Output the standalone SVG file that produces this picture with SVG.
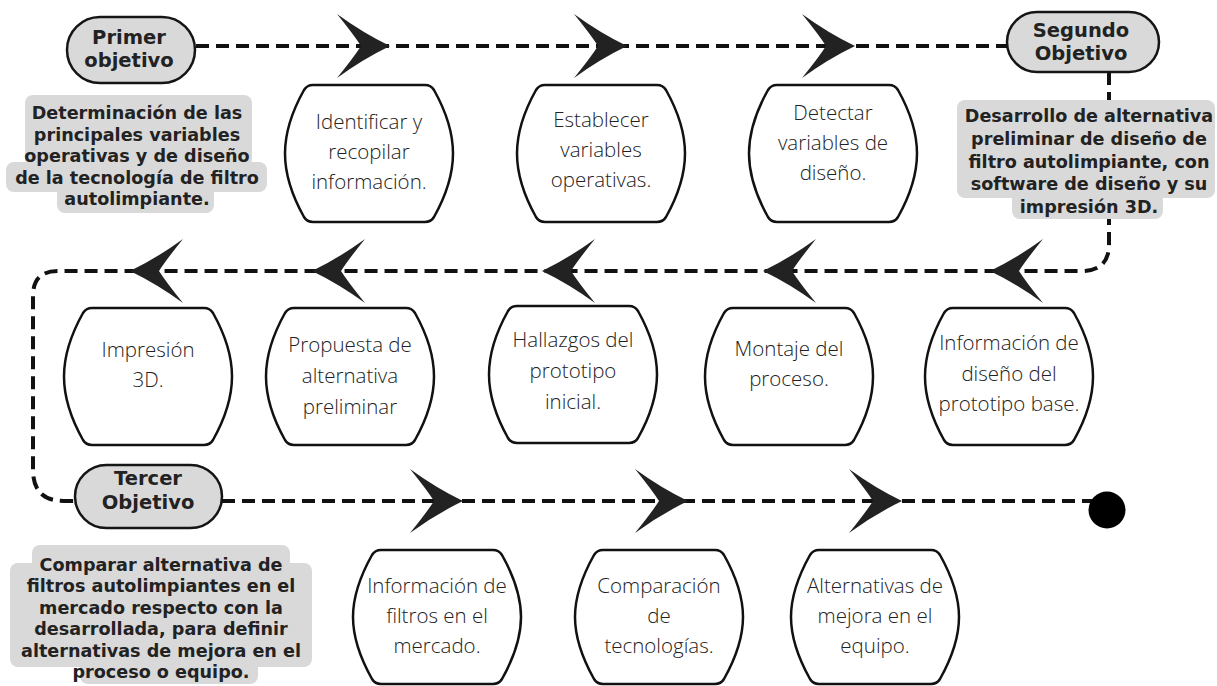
<svg xmlns="http://www.w3.org/2000/svg" width="1217" height="686" viewBox="0 0 1217 686">
<style>
.bg{fill:#ffffff}
.dash{fill:none;stroke:#111;stroke-width:4;stroke-dasharray:13 7}
.ah{fill:#222}
.pill{fill:#d9d9d9;stroke:#151515;stroke-width:2.5}
.desc{fill:#d9d9d9}
.node{fill:#fff;stroke:#111;stroke-width:2.5;stroke-linejoin:round}
.pt{font-family:"DejaVu Sans","Liberation Sans",sans-serif;font-weight:700;font-size:19.5px;fill:#222;text-anchor:middle}
.dt{font-family:"DejaVu Sans","Liberation Sans",sans-serif;font-weight:700;font-size:17.6px;fill:#222;text-anchor:middle}
.nt{font-family:"Open Sans","Liberation Sans",sans-serif;font-weight:300;font-size:20.5px;fill:#222;text-anchor:middle}
</style>
<defs>
<path id="ah" d="M0,0 Q-27,-13 -53,-32 Q-36,-11 -29,0 Q-36,11 -53,32 Q-27,13 0,0 Z"/>
<path id="barrel" d="M28,0 H140 Q146,0 149,5 C163,30 168,50 168,68.5 C168,87 163,107 149,132 Q146,137 140,137 H28 Q22,137 19,132 C5,107 0,87 0,68.5 C0,50 5,30 19,5 Q22,0 28,0 Z"/>
<path id="barrel2" d="M28,0 H140 Q146,0 149,5 C163,30 168,50 168,67 C168,84 163,104 149,129 Q146,134 140,134 H28 Q22,134 19,129 C5,104 0,84 0,67 C0,50 5,30 19,5 Q22,0 28,0 Z"/>
</defs>
<rect class="bg" x="0" y="0" width="1217" height="686"/>

<g id="connectors">
<path class="dash" d="M196,46 H1007"/>
<path class="dash" d="M1109,72 V244 Q1109,271 1082,271 H58 Q33,271 33,296 V470 Q33,501 64,501 H75"/>
<path class="dash" d="M222,501 H1092"/>
<use href="#ah" class="ah" transform="translate(390,46)"/>
<use href="#ah" class="ah" transform="translate(627,46)"/>
<use href="#ah" class="ah" transform="translate(855,46)"/>
<use href="#ah" class="ah" transform="translate(990,271) scale(-1,1)"/>
<use href="#ah" class="ah" transform="translate(763,271) scale(-1,1)"/>
<use href="#ah" class="ah" transform="translate(542,271) scale(-1,1)"/>
<use href="#ah" class="ah" transform="translate(312,271) scale(-1,1)"/>
<use href="#ah" class="ah" transform="translate(130,271) scale(-1,1)"/>
<use href="#ah" class="ah" transform="translate(463,501)"/>
<use href="#ah" class="ah" transform="translate(688,501)"/>
<use href="#ah" class="ah" transform="translate(902,501)"/>
<circle cx="1107" cy="510" r="18.5" fill="#000"/>
</g>

<g id="obj1">
<rect class="pill" x="67" y="17" width="128" height="66" rx="33"/>
<text class="pt" x="129" y="44">Primer</text>
<text class="pt" x="129" y="67">objetivo</text>
</g>
<g id="obj1-desc">
<rect class="desc" x="25" y="95" width="227" height="72" rx="8"/>
<rect class="desc" x="6" y="162" width="261" height="30" rx="8"/>
<rect class="desc" x="57" y="186" width="157" height="27" rx="8"/>
<text class="dt" x="137" y="119">Determinación de las</text>
<text class="dt" x="137" y="140.5">principales variables</text>
<text class="dt" x="137" y="162">operativas  y de diseño</text>
<text class="dt" x="137" y="183.5">de la tecnología de filtro</text>
<text class="dt" x="137" y="205">autolimpiante.</text>
</g>

<g id="obj2">
<rect class="pill" x="1007" y="12" width="152" height="60" rx="30"/>
<text class="pt" x="1081" y="37">Segundo</text>
<text class="pt" x="1081" y="60">Objetivo</text>
</g>
<g id="obj2-desc">
<rect class="desc" x="957" y="100" width="258" height="98" rx="8"/>
<rect class="desc" x="1012" y="192" width="151" height="27" rx="8"/>
<text class="dt" x="1089" y="122">Desarrollo de alternativa</text>
<text class="dt" x="1089" y="144.75">preliminar de diseño de</text>
<text class="dt" x="1089" y="167.5">filtro autolimpiante, con</text>
<text class="dt" x="1089" y="190.25">software de diseño y su</text>
<text class="dt" x="1089" y="213">impresión 3D.</text>
</g>

<g id="obj3">
<rect class="pill" x="75" y="465" width="147" height="63" rx="31.5"/>
<text class="pt" x="148" y="485">Tercer</text>
<text class="pt" x="148" y="509">Objetivo</text>
</g>
<g id="obj3-desc">
<rect class="desc" x="32" y="545" width="258" height="25" rx="8"/>
<rect class="desc" x="10" y="563" width="302" height="104" rx="8"/>
<rect class="desc" x="80" y="660" width="178" height="24" rx="8"/>
<text class="dt" x="161" y="571">Comparar alternativa de</text>
<text class="dt" x="161" y="592.4">filtros autolimpiantes en el</text>
<text class="dt" x="161" y="613.8">mercado respecto con la</text>
<text class="dt" x="161" y="635.2">desarrollada, para definir</text>
<text class="dt" x="161" y="656.6">alternativas de mejora en el</text>
<text class="dt" x="161" y="678">proceso o equipo.</text>
</g>

<g id="n1">
<use href="#barrel" class="node" transform="translate(285,85)"/>
<text class="nt" x="369" y="129">Identificar y</text>
<text class="nt" x="369" y="159">recopilar</text>
<text class="nt" x="369" y="189">información.</text>
</g>
<g id="n2">
<use href="#barrel" class="node" transform="translate(517,85)"/>
<text class="nt" x="601" y="127">Establecer</text>
<text class="nt" x="601" y="157">variables</text>
<text class="nt" x="601" y="187">operativas.</text>
</g>
<g id="n3">
<use href="#barrel" class="node" transform="translate(749,85)"/>
<text class="nt" x="833" y="120">Detectar</text>
<text class="nt" x="833" y="150">variables de</text>
<text class="nt" x="833" y="180">diseño.</text>
</g>

<g id="n4">
<use href="#barrel" class="node" transform="translate(925,308)"/>
<text class="nt" x="1009" y="350">Información de</text>
<text class="nt" x="1009" y="381">diseño del</text>
<text class="nt" x="1009" y="411">prototipo base.</text>
</g>
<g id="n5">
<use href="#barrel" class="node" transform="translate(705,308)"/>
<text class="nt" x="789" y="356">Montaje del</text>
<text class="nt" x="789" y="386">proceso.</text>
</g>
<g id="n6">
<use href="#barrel" class="node" transform="translate(489,306)"/>
<text class="nt" x="573" y="347">Hallazgos del</text>
<text class="nt" x="573" y="378">prototipo</text>
<text class="nt" x="573" y="409">inicial.</text>
</g>
<g id="n7">
<use href="#barrel" class="node" transform="translate(266,308)"/>
<text class="nt" x="350" y="352">Propuesta de</text>
<text class="nt" x="350" y="383">alternativa</text>
<text class="nt" x="350" y="414">preliminar</text>
</g>
<g id="n8">
<use href="#barrel" class="node" transform="translate(64,308)"/>
<text class="nt" x="148" y="357">Impresión</text>
<text class="nt" x="148" y="387">3D.</text>
</g>

<g id="n9">
<use href="#barrel2" class="node" transform="translate(353,550)"/>
<text class="nt" x="437" y="593">Información de</text>
<text class="nt" x="437" y="623">filtros en el</text>
<text class="nt" x="437" y="653">mercado.</text>
</g>
<g id="n10">
<use href="#barrel2" class="node" transform="translate(575,550)"/>
<text class="nt" x="659" y="593">Comparación</text>
<text class="nt" x="659" y="623">de</text>
<text class="nt" x="659" y="653">tecnologías.</text>
</g>
<g id="n11">
<use href="#barrel2" class="node" transform="translate(791,550)"/>
<text class="nt" x="875" y="593">Alternativas de</text>
<text class="nt" x="875" y="623">mejora en el</text>
<text class="nt" x="875" y="653">equipo.</text>
</g>
</svg>
